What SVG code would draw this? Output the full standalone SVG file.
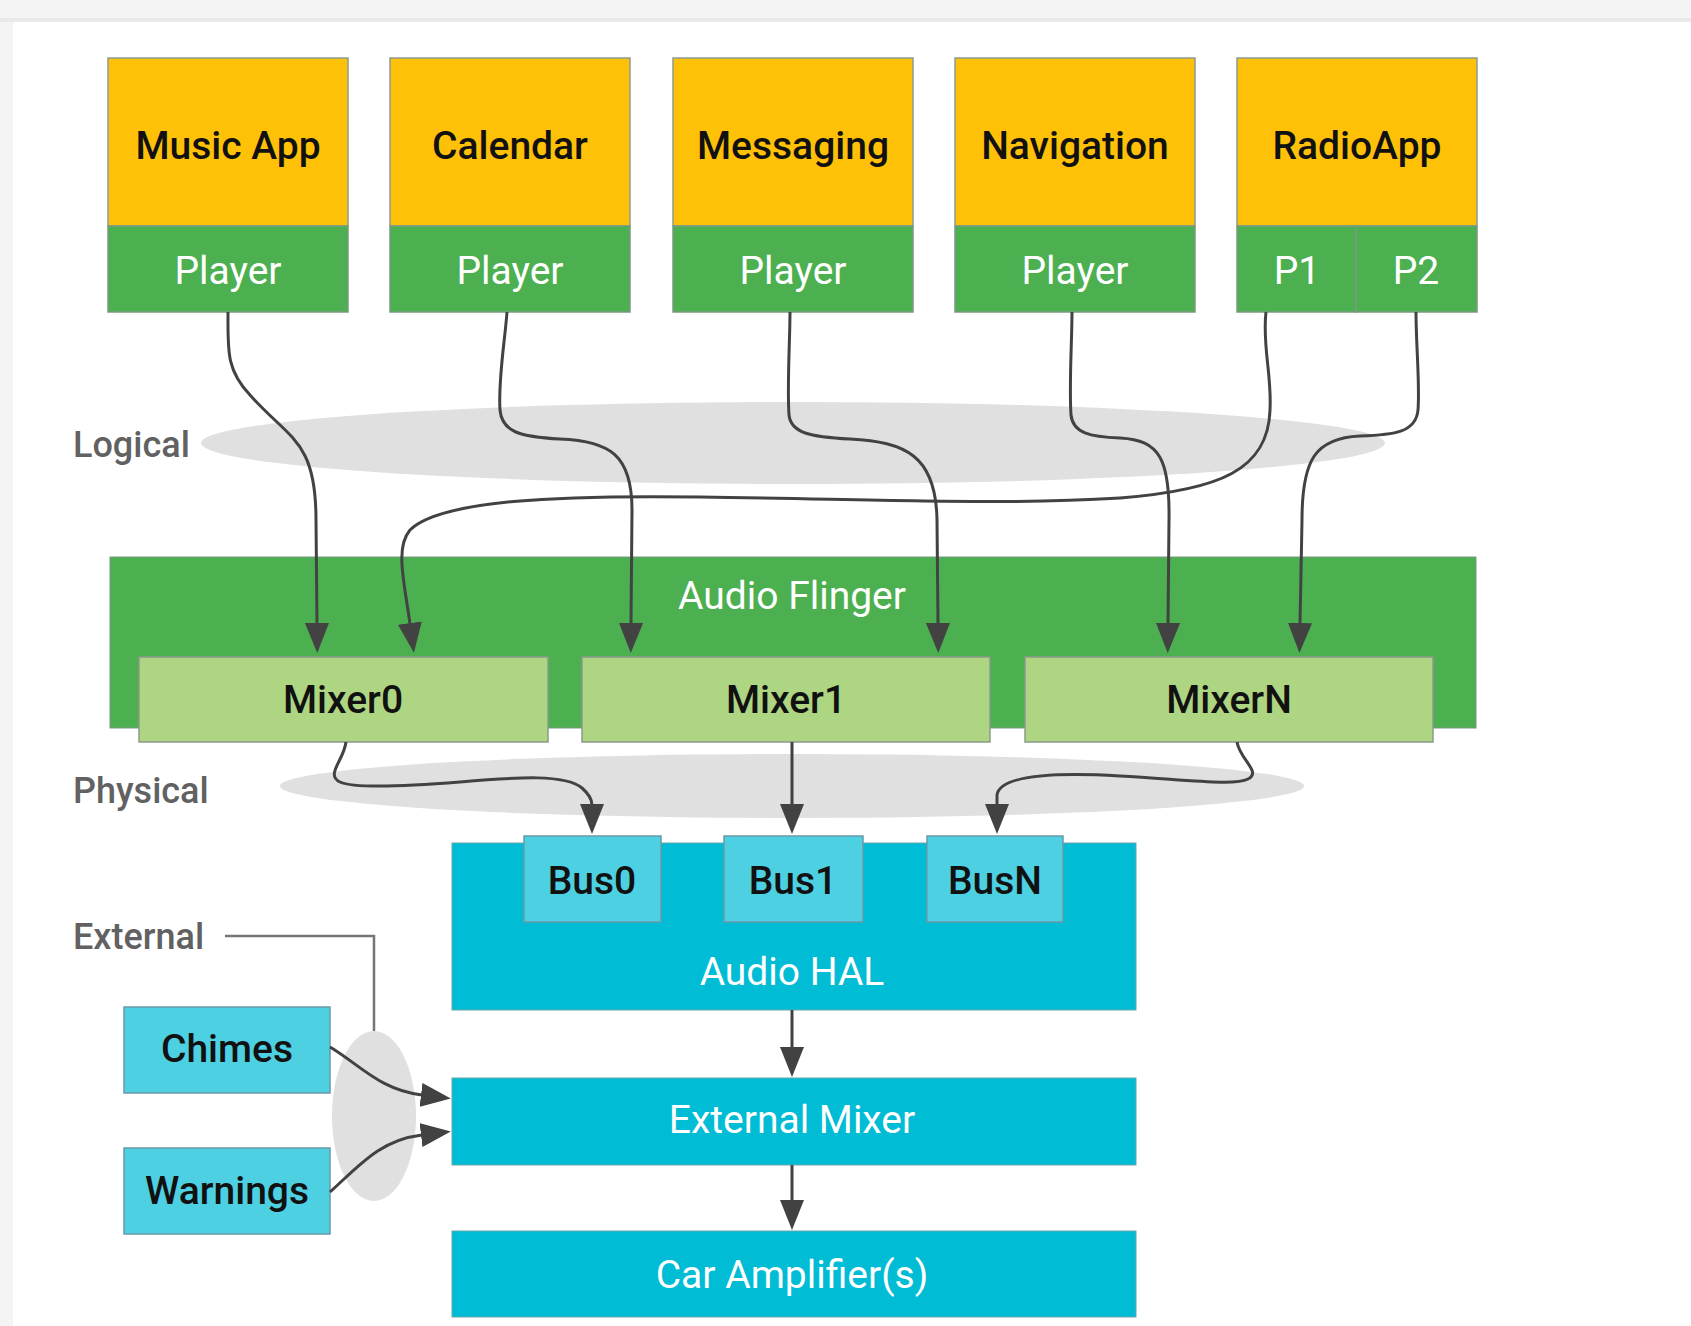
<svg xmlns="http://www.w3.org/2000/svg" width="1691" height="1326" viewBox="0 0 1691 1326">
<defs>
<marker id="arr" viewBox="0 0 30 24" refX="1" refY="12" markerWidth="30" markerHeight="24" markerUnits="userSpaceOnUse" orient="auto">
<path d="M0,0 L30,12 L0,24 Z" fill="#424242"/>
</marker>
</defs>
<style>
.app{fill:#FFC107;stroke:#8a9a90;stroke-width:1.5}
.player{fill:#4CAF50;stroke:#7a9a80;stroke-width:1.5}
.flinger{fill:#4CAF50;stroke:#7a9a80;stroke-width:1}
.mixer{fill:#AED581;stroke:#8a9a8a;stroke-width:1.5}
.hal{fill:#00BCD4;stroke:#6aa8b0;stroke-width:1}
.bus{fill:#4DD0E1;stroke:#6a9aa8;stroke-width:1.5}
.t{font-family:Roboto,"Liberation Sans",sans-serif;font-size:39px;text-anchor:middle}
.dark{fill:#111;font-weight:500}
.light{fill:#fff}
.lab{font-family:Roboto,"Liberation Sans",sans-serif;font-size:36px;font-weight:500;fill:#616161}
.c{fill:none;stroke:#424242;stroke-width:3}
.zone{fill:#e0e0e0}
</style>
<rect x="0" y="0" width="1691" height="1326" fill="#f4f4f4"/>
<rect x="0" y="18" width="1691" height="4" fill="#e9e9e9"/>
<rect x="13" y="22" width="1678" height="1304" fill="#ffffff"/>

<g id="zones">
<ellipse class="zone" cx="793" cy="443" rx="592" ry="41"/>
<ellipse class="zone" cx="792" cy="786" rx="512" ry="32"/>
<ellipse class="zone" cx="374" cy="1116" rx="42" ry="85"/>
</g>

<g id="music-app">
<rect class="app" x="108" y="58" width="240" height="168"/>
<rect class="player" x="108" y="226" width="240" height="86"/>
<text class="t dark" x="228" y="159">Music App</text>
<text class="t light" x="228" y="284">Player</text>
</g>
<g id="calendar">
<rect class="app" x="390" y="58" width="240" height="168"/>
<rect class="player" x="390" y="226" width="240" height="86"/>
<text class="t dark" x="510" y="159">Calendar</text>
<text class="t light" x="510" y="284">Player</text>
</g>
<g id="messaging">
<rect class="app" x="673" y="58" width="240" height="168"/>
<rect class="player" x="673" y="226" width="240" height="86"/>
<text class="t dark" x="793" y="159">Messaging</text>
<text class="t light" x="793" y="284">Player</text>
</g>
<g id="navigation">
<rect class="app" x="955" y="58" width="240" height="168"/>
<rect class="player" x="955" y="226" width="240" height="86"/>
<text class="t dark" x="1075" y="159">Navigation</text>
<text class="t light" x="1075" y="284">Player</text>
</g>
<g id="radio-app">
<rect class="app" x="1237" y="58" width="240" height="168"/>
<rect class="player" x="1237" y="226" width="119" height="86"/>
<rect class="player" x="1356" y="226" width="121" height="86"/>
<text class="t dark" x="1357" y="159">RadioApp</text>
<text class="t light" x="1297" y="284">P1</text>
<text class="t light" x="1416" y="284">P2</text>
</g>

<g id="labels">
<text class="lab" x="73" y="457">Logical</text>
<text class="lab" x="73" y="803">Physical</text>
<text class="lab" x="73" y="949">External</text>
</g>

<g id="audio-flinger">
<rect class="flinger" x="110" y="557" width="1366" height="171"/>
<text class="t light" x="792" y="609">Audio Flinger</text>
</g>
<g id="mixer0">
<rect class="mixer" x="139" y="657" width="409" height="85"/>
<text class="t dark" x="343" y="713">Mixer0</text>
</g>
<g id="mixer1">
<rect class="mixer" x="582" y="657" width="408" height="85"/>
<text class="t dark" x="786" y="713">Mixer1</text>
</g>
<g id="mixerN">
<rect class="mixer" x="1025" y="657" width="408" height="85"/>
<text class="t dark" x="1229" y="713">MixerN</text>
</g>

<g id="audio-hal">
<rect class="hal" x="452" y="843" width="684" height="167"/>
<text class="t light" x="792" y="985">Audio HAL</text>
</g>
<g id="bus0">
<rect class="bus" x="524" y="836" width="137" height="86"/>
<text class="t dark" x="592" y="894">Bus0</text>
</g>
<g id="bus1">
<rect class="bus" x="724" y="836" width="139" height="86"/>
<text class="t dark" x="793" y="894">Bus1</text>
</g>
<g id="busN">
<rect class="bus" x="927" y="836" width="136" height="86"/>
<text class="t dark" x="995" y="894">BusN</text>
</g>
<g id="external-mixer">
<rect class="hal" x="452" y="1078" width="684" height="87"/>
<text class="t light" x="792" y="1133">External Mixer</text>
</g>
<g id="car-amplifier">
<rect class="hal" x="452" y="1231" width="684" height="86"/>
<text class="t light" x="792" y="1288">Car Amplifier(s)</text>
</g>
<g id="chimes">
<rect class="bus" x="124" y="1007" width="206" height="86"/>
<text class="t dark" x="227" y="1062">Chimes</text>
</g>
<g id="warnings">
<rect class="bus" x="124" y="1148" width="206" height="86"/>
<text class="t dark" x="227" y="1204">Warnings</text>
</g>

<g id="connectors">
<path class="c" d="M228,312 C228,350 226,370 250,395 C290,440 316,440 316,520 L317,624" marker-end="url(#arr)"/>
<path class="c" d="M507,312 C505,340 498,380 500,410 C502,432 520,437 560,439 C610,441 632,455 632,510 L631,624" marker-end="url(#arr)"/>
<path class="c" d="M790,312 C790,340 787,385 789,415 C791,433 810,437 850,439 C905,442 936,455 937,520 L938,624" marker-end="url(#arr)"/>
<path class="c" d="M1072,312 C1072,340 1069,385 1071,415 C1073,433 1090,437 1120,438 C1160,440 1170,460 1169,520 L1168,624" marker-end="url(#arr)"/>
<path class="c" d="M1266,312 C1262,345 1272,375 1270,410 C1268,470 1220,490 1120,498 C1000,505 900,500 700,497 C560,495 440,500 410,530 C395,548 404,580 410,624" marker-end="url(#arr)"/>
<path class="c" d="M1416,312 C1416,345 1420,385 1418,410 C1416,432 1395,435 1360,436 C1315,438 1302,460 1302,520 L1300,624" marker-end="url(#arr)"/>
<path class="c" d="M346,742 C344,760 325,775 340,782 C355,789 410,786 460,782 C520,777 565,774 582,788 C590,795 592,800 592,805" marker-end="url(#arr)"/>
<path class="c" d="M792,742 L792,805" marker-end="url(#arr)"/>
<path class="c" d="M1237,742 C1240,760 1262,772 1248,779 C1235,786 1190,780 1120,776 C1050,772 1000,776 997,795 L997,805" marker-end="url(#arr)"/>
<path class="c" d="M792,1010 L792,1048" marker-end="url(#arr)"/>
<path class="c" d="M792,1165 L792,1201" marker-end="url(#arr)"/>
<path class="c" d="M330,1047 C360,1065 380,1090 422,1095" marker-end="url(#arr)"/>
<path class="c" d="M330,1192 C360,1165 380,1140 422,1135" marker-end="url(#arr)"/>
<path d="M225,936 L374,936 L374,1031" fill="none" stroke="#757575" stroke-width="2.5"/>
</g>
</svg>
